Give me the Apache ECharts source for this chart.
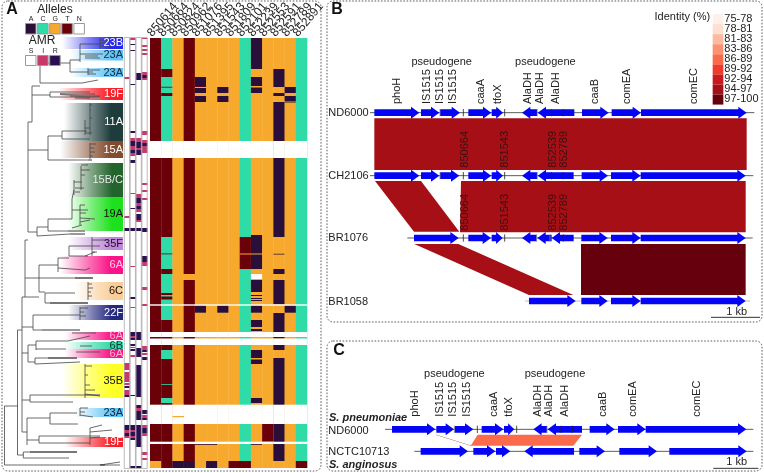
<!DOCTYPE html>
<html><head><meta charset="utf-8">
<style>html,body{margin:0;padding:0;background:#fff}#c{width:764px;height:473px}</style>
<script src="https://cdn.jsdelivr.net/npm/echarts@6/dist/echarts.min.js"></script>
</head><body><div id="c"></div>
<script>
const FONT='"Liberation Sans",Arial,sans-serif';
// ---------- Panel A data ----------
const positions=['850614','850664','850824','850962','851076','851395','851543','851809','852101','852239','852553','852591','852789','852891'];
const col0=[[38,461,'T'],[461,468,'G']];
const col1=[[38,158,'C'],[69,77,'T'],[86.8,87.6,'T'],[93,96,'T'],[158,237,'T'],[237,320,'C'],[253.5,254.3,'T'],[269,274,'T'],[293,295,'T'],[296.5,299.5,'T'],[320,350,'T'],[350,359,'C'],[359,398,'T'],[384,384.8,'C'],[398,403,'C'],[403,468,'T']];
const col2=[[38,461,'G'],[461,468,'A']];
const col3=[[38,274,'T'],[274,280,'G'],[280,461,'T'],[461,468,'A']];
const col4=[[38,468,'G'],[77,86,'A'],[86,87,'T'],[88,93,'A'],[96,102,'A'],[305.5,312.7,'A'],[444,444.8,'A']];
const col5=[[38,461,'G'],[444,444.8,'A'],[461,468,'A']];
const col6=[[38,468,'G'],[87,93,'A'],[96,102,'A'],[305.5,312.7,'A']];
const col7=[[38,461,'G'],[461,468,'T']];
const col8=[[38,461,'C'],[237,269,'T'],[253.5,254.5,'G'],[461,468,'T']];
const col9=[[38,468,'G'],[38,69,'A'],[77,86,'A'],[87.5,93,'A'],[235,253.5,'A'],[254.5,269,'A'],[274,279,'N'],[280,292,'A'],[295,296,'A'],[298,299,'A'],[300,301,'A'],[305.5,312.7,'A'],[320,327,'A'],[329,331,'A'],[350,358,'A'],[359.5,364,'A'],[398,403,'A'],[444,444.8,'A']];
const col10=[[38,468,'G'],[424,441.7,'T']];
const col11=[[38,468,'G'],[69,87,'A'],[93,96,'A'],[102,237,'A'],[253.8,254.5,'A'],[269,274,'A'],[280,304.3,'A'],[313,338.5,'A'],[345,350,'A'],[358,461,'A']];
const col12=[[38,468,'G'],[87,93,'A'],[96,101,'A'],[101.5,102.5,'A'],[305.5,312.7,'A']];
const col13=[[38,461,'C'],[461,468,'T']];
const alleleColumns=[col0,col1,col2,col3,col4,col5,col6,col7,col8,col9,col10,col11,col12,col13];
const blankRows=[[141,158],[304.3,305.7],[332,337],[338.5,345],[404.7,424],[441.7,444]];
const strayCalls=[[2,416,417.2,'G']];
const amrA=[[77,79,'I'],[216,218,'I'],[228,231,'R'],[363,370,'I'],[372,382,'I'],[383,385,'I'],[386,388,'R'],[390,395,'I'],[395,397,'R'],[425,430,'R'],[430,433,'I'],[433,436,'R'],[436,438,'I']];
const amrB=[[38,40,'I'],[44,45,'R'],[50,51,'R'],[84,85,'R'],[131,133,'R'],[138,141,'I'],[141,146,'R'],[146,150,'I'],[150,153,'R'],[153,156,'I'],[160,163,'R'],[193,194,'I'],[208,209,'R'],[228,231,'R'],[266,267,'I'],[297,299,'R'],[307,308,'I'],[332,336,'R'],[336,338,'I'],[338,340,'R'],[344,346,'R'],[347,348,'I'],[349,351,'R'],[355,357,'I'],[395,396,'R'],[425,430,'R'],[430,432,'I'],[432,436,'R'],[436,438,'I'],[438,440,'R'],[466,468,'R']];
const amrC=[[73,80,'R'],[138,142,'I'],[142,148,'R'],[148,150,'I'],[150,155,'R'],[194,198,'I'],[198,203,'R'],[203,206,'I'],[206,209,'R'],[209,212,'I'],[214,220,'R'],[220,222,'I'],[228,231,'R'],[332,340,'R'],[348,357,'R'],[365,397,'R'],[405,408,'R'],[408,411,'I'],[411,420,'R'],[425,447,'R'],[466,468,'R']];
const amrD=[[38,39,'I'],[45,47,'I'],[49,51,'I'],[53,55,'I'],[72,75,'I'],[75,78,'R'],[78,80,'I'],[131,135,'I'],[140,143,'I'],[143,146,'R'],[146,153,'I'],[183,185,'I'],[190,192,'I'],[198,200,'I'],[228,232,'R'],[256,262,'R'],[262,266,'I'],[287,290,'I'],[304,306,'I'],[346,350,'I'],[350,352,'R'],[353,355,'I'],[357,360,'R'],[410,414,'R'],[415,418,'I'],[418,420,'R'],[425,428,'I'],[428,433,'R'],[433,436,'I'],[452,455,'I'],[458,460,'I']];
const amrStrips=[amrA,amrB,amrC,amrD];
const alleleCodes=['A','C','G','T','N'];
const amrCodes=['S','I','R'];
const cladeNames=['23B','23A','23A','19F','11A','15A','15B/C','19A','35F','6A','6C','22F','6A','6B','6A','35B','23A','19F'];
const cladeFrom=[37,50,68,88,103,141,163,197,237,256,282,305,332,342,349,364,408,437];
const cladeTo=[49,60.5,77,100,141,158,197,231,250,274,300,320,340,349,358,398,417,447];
const cladeStart=[62,70,70,58,64,60,68,68,68,60,75,68,65,65,65,62,75,65];
const treeBranches=[
[4.5,406,4.5,465],[4.5,465,120,465],[4.5,406,17.5,406],[17.5,330,17.5,455],[17.5,455,23.3,455],[23.3,452,23.3,458],[23.3,452,77,452],[23.3,458,69,458],
[17.5,330,22,330],[22,297,22,432],[22,432,27,432],[27,418,27,445],[27,418,33,418],[33,418,50,418],[50,413,50,424],[50,413,77,413],[50,424,78,424],
[27,440,39,440],[39,436,39,443],[39,436,100,436],[39,443,90,443],[22,400,30,400],[30,395,30,402],[30,395,85,395],[30,402,73,402],
[22,353,28,353],[28,345,28,362],[28,345,36,345],[36,341,36,350],[36,341,68,341],[36,349,66,349],[28,362,35,362],[35,358,35,364],[35,358,77,358],[35,364,80,362],
[22,327,33,327],[33,315,33,330],[33,315,80,315],[33,330,42,330],[22,297,25,297],[25,240,25,297],[25,297,39,297],[39,265,39,292],[25,278,39,278],
[39,265,58,265],[58,258,58,272],[58,258,69,258],[69,246,69,256],[69,246,92,246],[69,256,88,256],[58,268,85,270],[39,278,93,278],[39,292,45,292],[45,293,45,303],[45,293,75,293],[45,303,88,303],
[25,240,28,240],[28,122,28,232],[28,232,37,232],[37,227,37,236],[37,227,48,227],[37,236,70,234],[48,219,48,231],[48,219,72,219],[48,231,68,231],[72,199,72,219],
[28,122,32,122],[32,86,32,122],[28,150,48,150],[48,136,48,160],[48,136,62,136],[62,131,62,139],[62,131,87,131],[62,139,90,139],[48,160,88,160],
[32,95,50,95],[50,92,50,97],[50,92,90,92],[50,97,100,97],[32,86,40,86],[40,63,40,83],[40,63,70,63],[40,83,82,83],[70,60,70,72],[70,60,80,60],[70,72,88,72],[80,44,80,62],
[80,44,100,44],[100,38,100,49],[100,40,110,40],[100,43,108,43],[100,46,112,46],[80,54,103,54],[85,58,100,58],[85,56,98,56],
[88,68,88,75],[88,70,100,70],[88,72,93,72],[88,74,96,74],[82,83,98,80],[60,94,95,94],[70,96,100,96],[75,98,90,98],
[90,103,90,135],[90,105,92,105],[90,110,91,110],[90,118,92,118],[85,120,85,135],[85,128,90,128],[85,133,92,133],
[90,143,90,159],[90,144,96,144],[90,148,94,148],[90,152,95,152],[90,156,93,156],
[81,166,81,190],[81,165,88,165],[81,170,90,170],[81,175,85,175],[74,180,74,195],[74,182,82,182],[75,188,84,188],[75,192,80,192],[72,199,74,190],
[80,205,80,225],[80,205,85,205],[80,210,88,210],[80,213,86,213],[80,218,95,219],[80,222,90,220],[72,210,80,210],[72,228,82,225],
[92,237,92,256],[92,240,108,240],[92,246,100,246],[92,252,97,252],[85,256,95,252],[85,270,90,268],[88,282,88,300],[88,284,92,284],[88,288,93,288],[88,292,91,292],[88,296,92,296],
[80,307,80,320],[80,308,88,308],[80,312,84,312],[80,316,86,316],[68,341,90,336],[72,333,96,333],[76,352,100,352],[80,346,92,346],
[85,364,85,398],[85,366,92,366],[85,375,88,375],[85,385,90,385],[85,390,95,390],[85,394,100,396],[80,408,80,416],[80,408,88,408],[80,412,85,412],[80,415,93,417],
[90,428,90,445],[90,428,102,425],[90,432,112,430],[90,438,100,437],[100,465,120,462]];
const collapsedBranches=[[30,452,77,452],[48,358,77,358],[42,330,80,330],[75,278,93,278],[50,303,88,303],[100,465,105,465],[68,231,85,231],[70,234,85,234],[88,160,92,160],[85,395,100,395],[60,94,100,98]];
// ---------- Panels B, C data (sequence position units; 147 = 1 kb) ----------
const trackNames=['ND6000','CH2106','BR1076','BR1058','ND6000','NCTC10713'];
const trackLevels=[338,527,714,903,1288,1354];
const trackSpans=[[135,1288],[135,1285],[247,1283],[600,1275],[180,1285],[268,1285]];
const genesND6000=[[148,283,1],[288,343,1],[345,405,1],[430,499,1],[500,534,1],[591,636,-1],[638,748,-1],[771,851,1],[860,948,1],[948,1265,1]];
const genesCH2106=[[148,283,1],[288,343,1],[345,403,1],[430,499,1],[500,534,1],[591,636,-1],[638,746,-1],[770,849,1],[858,947,1],[947,1262,1]];
const genesBR1076=[[267,401,1],[430,498,1],[500,533,1],[591,635,-1],[637,680,-1],[680,746,-1],[769,848,1],[858,947,1],[947,1262,1]];
const genesBR1058=[[612,752,1],[769,848,1],[858,947,1],[947,1262,1]];
const genesND6000c=[[201,331,1],[334,387,1],[389,445,1],[470,535,1],[537,568,1],[625,666,-1],[668,771,-1],[794,869,1],[879,962,1],[962,1264,1]];
const genesNCTC=[[287,429,1],[445,511,1],[513,556,1],[598,747,-1],[763,840,1],[883,996,1],[1033,1265,1]];
const trackGenes=[genesND6000,genesCH2106,genesBR1076,genesBR1058,genesND6000c,genesNCTC];
const snpTicks=[[415,539,680,715],[415,539,680,715],[415,539,715],[],[457,575,708,742],[]];
const pseudoTicks=[[637,345],[637,345],[635,675],[],[666,388],[]];
const geneLabelsB=['phoH','IS1515','IS1515','IS1515','caaA','tfoX','AlaDH','AlaDH','AlaDH','caaB','comEA','comEC'];
const geneLabelXB=[217,305,345,385,468,520,610,645,692,810,907,1107];
const geneLabelXC=[270,345,385,425,507,552,638,672,720,835,923,1117];
const pseudoXB=[350,661],pseudoXC=[388,690];
const snpNames=['850664','851543','852539','852789'];
const snpLabelX=[421,541,684,717];
const synteny=[
 {band:'94-97',pts:[[148,355],[1265,355],[1265,510],[148,510]]},
 {band:'94-97',pts:[[150,543],[288,543],[403,695],[267,695]]},
 {band:'94-97',pts:[[408,543],[1262,543],[1262,697],[405,697]]},
 {band:'94-97',pts:[[268,732],[400,732],[745,885],[612,885]]},
 {band:'97-100',pts:[[768,732],[1262,732],[1262,885],[768,885]]},
 {band:'86-89',pts:[[458,1304],[771,1304],[745,1337],[437,1337]]},
 {band:'94-97',pts:[[331,1304],[334,1304],[440,1337],[437,1337]]}];
const identityBands=['75-78','78-81','81-83','83-86','86-89','89-92','92-94','94-97','97-100'];
// ---------- Styles ----------
const alleleColor={A:'#2a0f3a',C:'#2fdca8',G:'#f7a92d',T:'#6a0008',N:'#ffffff'};
const amrColor={S:'#ffffff',I:'#c8396b',R:'#2a1050'};
const identityColor=['#fff1ea','#fee0d2','#fcbba1','#fc9272','#fb6a4a','#ef3b2c','#cb181d','#a50f15','#67000d'];
const bandColor={};identityBands.forEach((b,i)=>bandColor[b]=identityColor[i]);
const cladeRGB=['40,40,235','95,195,245','95,195,245','250,30,40','30,60,60','130,75,45','35,100,45','30,225,30','190,135,215','250,20,135','250,205,150','35,40,125','250,20,135','50,215,165','250,20,135','255,255,40','95,195,245','250,30,40'];
const cladeText=['#fff','#1a2a3a','#1a2a3a','#fff','#fff','#fff','#e8e8e8','#111','#1f1030','#ffd0e0','#111','#fff','#ffb0d0','#0a3a30','#ffb0d0','#111','#123','#fff'];
const txt=(x,y,text,o={})=>({type:'text',x,y,rotation:o.rot||0,style:{x:0,y:0,text,fill:o.fill||'#222',font:`${o.style||''} ${o.size||11}px ${FONT}`,align:o.align||'left',verticalAlign:o.v||'middle'},silent:true});
function rectTo(api,x1,y1,x2,y2){const a=api.coord([x1,y1]),b=api.coord([x2,y2]);return {x:a[0],y:a[1],width:b[0]-a[0],height:b[1]-a[1]};}
const series=[];
series.push({type:'custom',coordinateSystem:'cartesian2d',xAxisIndex:0,yAxisIndex:0,z:1,silent:true,
 data:cladeNames.map((n,i)=>i),
 renderItem(p,api){const i=p.dataIndex;const c=cladeRGB[i];
  return {type:'rect',shape:rectTo(api,cladeStart[i],cladeFrom[i],123,cladeTo[i]),
   style:{fill:new echarts.graphic.LinearGradient(0,0,1,0,[{offset:0,color:`rgba(${c},0)`},{offset:.45,color:`rgba(${c},.6)`},{offset:.8,color:`rgba(${c},1)`},{offset:1,color:`rgba(${c},1)`}])}};}});
const lineSeries=(arr,color,w,z)=>({type:'custom',coordinateSystem:'cartesian2d',xAxisIndex:0,yAxisIndex:0,z,silent:true,data:arr,
 renderItem(p,api){const a=api.coord([api.value(0),api.value(1)]),b=api.coord([api.value(2),api.value(3)]);
  return {type:'line',shape:{x1:a[0],y1:a[1],x2:b[0],y2:b[1]},style:{stroke:color,lineWidth:w}};}});
series.push(lineSeries(collapsedBranches,'#999',2,2));
series.push(lineSeries(treeBranches,'#444',.8,3));
series.push({type:'custom',coordinateSystem:'cartesian2d',xAxisIndex:0,yAxisIndex:0,z:4,silent:true,data:cladeNames.map((n,i)=>i),
 renderItem(p,api){const i=p.dataIndex;const c=api.coord([123,(cladeFrom[i]+cladeTo[i])/2]);
  return txt(c[0],c[1],cladeNames[i],{align:'right',fill:cladeText[i],size:11});}});
const amrCells=[];amrStrips.forEach((s,k)=>s.forEach(c=>amrCells.push([k,c[0],c[1],c[2]])));
series.push({type:'custom',coordinateSystem:'cartesian2d',xAxisIndex:1,yAxisIndex:1,z:3,silent:true,data:amrCells,
 renderItem(p,api){const k=amrCells[p.dataIndex];const c=api.coord([k[0],k[1]]),e=api.coord([k[0],k[2]]),w=api.size([1,0])[0];
  return {type:'rect',shape:{x:c[0]-w/2,y:c[1],width:w,height:e[1]-c[1]},style:{fill:amrColor[k[3]]}};}});
series.push({type:'custom',coordinateSystem:'cartesian2d',xAxisIndex:1,yAxisIndex:1,z:4,silent:true,data:[0,1,2,3],
 renderItem(p,api){const c=api.coord([p.dataIndex,38]),e=api.coord([p.dataIndex,468]),w=api.size([1,0])[0];
  return {type:'rect',shape:{x:c[0]-w/2+.3,y:c[1]-.5,width:w-.6,height:e[1]-c[1]+1},style:{fill:'none',stroke:'#aaa',lineWidth:.8}};}});
const cells=[];alleleColumns.forEach((s,k)=>s.forEach(c=>cells.push([k,c[0],c[1],alleleColor[c[2]]])));
alleleColumns.forEach((s,k)=>blankRows.forEach(b=>cells.push([k,b[0],b[1],'#fff'])));
strayCalls.forEach(c=>cells.push([c[0],c[1],c[2],alleleColor[c[3]]]));
series.push({type:'custom',coordinateSystem:'cartesian2d',xAxisIndex:2,yAxisIndex:2,z:3,silent:true,data:cells,
 renderItem(p,api){const k=cells[p.dataIndex];const c=api.coord([k[0],k[1]]),e=api.coord([k[0],k[2]]),w=api.size([1,0])[0];
  return {type:'rect',shape:{x:c[0]-w/2,y:c[1],width:w+.3,height:e[1]-c[1]},style:{fill:k[3]}};}});
// column headings, drawn rotated from each column's band
series.push({type:'custom',coordinateSystem:'cartesian2d',xAxisIndex:2,yAxisIndex:2,z:5,silent:true,data:positions.map((n,i)=>i),clip:false,
 renderItem(p,api){const i=p.dataIndex;const c=api.coord([i,38]);
  return txt(c[0]-6,c[1]-3,positions[i],{rot:50*Math.PI/180,size:12,fill:'#222'});}});
series.push({type:'custom',coordinateSystem:'cartesian2d',xAxisIndex:3,yAxisIndex:3,z:2,silent:true,data:synteny.map((s,i)=>i),
 renderItem(p,api){const s=synteny[p.dataIndex];return {type:'polygon',shape:{points:s.pts.map(q=>api.coord(q))},style:{fill:bandColor[s.band]}};}});
const trackLines=trackSpans.map((s,i)=>[s[0],trackLevels[i],s[1],trackLevels[i]]);
series.push({type:'custom',coordinateSystem:'cartesian2d',xAxisIndex:3,yAxisIndex:3,z:3,silent:true,data:trackLines,
 renderItem(p,api){const a=api.coord([api.value(0),api.value(1)]),b=api.coord([api.value(2),api.value(3)]);
  return {type:'line',shape:{x1:a[0],y1:a[1],x2:b[0],y2:b[1]},style:{stroke:p.dataIndex==3?'#aaa':'#333',lineWidth:.8}};}});
const ticks=[];snpTicks.forEach((t,i)=>t.forEach(x=>ticks.push([x,trackLevels[i],'#222'])));pseudoTicks.forEach((t,i)=>t.forEach(x=>ticks.push([x,trackLevels[i],'#888'])));
series.push({type:'custom',coordinateSystem:'cartesian2d',xAxisIndex:3,yAxisIndex:3,z:5,silent:true,data:ticks,
 renderItem(p,api){const k=ticks[p.dataIndex];const a=api.coord([k[0],k[1]-11]),b=api.coord([k[0],k[1]+11]);
  return {type:'line',shape:{x1:a[0],y1:a[1],x2:b[0],y2:b[1]},style:{stroke:k[2],lineWidth:.8}};}});
const geneRows=[];trackGenes.forEach((g,i)=>g.forEach(q=>geneRows.push([q[0],q[1],q[2],trackLevels[i]])));
series.push({type:'custom',coordinateSystem:'cartesian2d',xAxisIndex:3,yAxisIndex:3,z:4,silent:true,data:geneRows,
 renderItem(p,api){const [s,e,d,y]=geneRows[p.dataIndex];const hl=Math.min(25,(e-s)*.6),b=10,h=18;
  const pts=d>0?[[s,y-b],[e-hl,y-b],[e-hl,y-h],[e,y],[e-hl,y+h],[e-hl,y+b],[s,y+b]]:[[e,y-b],[s+hl,y-b],[s+hl,y-h],[s,y],[s+hl,y+h],[s+hl,y+b],[e,y+b]];
  return {type:'polygon',shape:{points:pts.map(q=>api.coord(q))},style:{fill:'#0505f5'}};}});
const texts=[];
const addGeneLabels=(xs,bottom,pseudo,py)=>{xs.forEach((x,i)=>texts.push({x:x,y:bottom,t:geneLabelsB[i],rot:1}));pseudo.forEach(x=>texts.push({x,y:py,t:'pseudogene',c:1}));};
addGeneLabels(geneLabelXB,312,pseudoXB,186);addGeneLabels(geneLabelXC,1250,pseudoXC,1123);
snpNames.forEach((n,i)=>{texts.push({x:snpLabelX[i],y:503,t:n,rot:1,fill:'#3d1010'});texts.push({x:snpLabelX[i],y:692,t:n,rot:1,fill:'#3d1010'});});
const trackTextY=[338,527,714,905,1293,1357];
trackNames.forEach((n,i)=>texts.push({x:10,y:trackTextY[i],t:n}));
texts.push({x:12,y:1255,t:'S. pneumoniae',st:'italic bold'});texts.push({x:12,y:1395,t:'S. anginosus',st:'italic bold'});
texts.push({x:1235,y:936,t:'1 kb',c:1});texts.push({x:1235,y:1387,t:'1 kb',c:1});
texts.push({x:1072,y:52,t:'Identity (%)',c:1});
identityBands.forEach((b,i)=>texts.push({x:1198,y:57+30.1*i,t:b}));
series.push({type:'custom',coordinateSystem:'cartesian2d',xAxisIndex:3,yAxisIndex:3,z:6,silent:true,data:texts.map((t,i)=>i),
 renderItem(p,api){const t=texts[p.dataIndex];const c=api.coord([t.x,t.y]);
  if(t.rot)return txt(c[0],c[1],t.t,{rot:Math.PI/2,fill:t.fill});
  return txt(c[0],c[1],t.t,{align:t.c?'center':'left',style:t.st||''});}});
series.push({type:'custom',coordinateSystem:'cartesian2d',xAxisIndex:3,yAxisIndex:3,z:6,silent:true,data:identityBands.map((b,i)=>i),
 renderItem(p,api){const i=p.dataIndex;return {type:'rect',shape:rectTo(api,1163,42+30.2*i,1195,42+30.2*(i+1)),style:{fill:identityColor[i]}};}});
series.push({type:'custom',coordinateSystem:'cartesian2d',xAxisIndex:3,yAxisIndex:3,z:6,silent:true,data:[[1158,952,1305,952],[1165,1405,1300,1405]],
 renderItem(p,api){const a=api.coord([api.value(0),api.value(1)]),b=api.coord([api.value(2),api.value(3)]);
  return {type:'line',shape:{x1:a[0],y1:a[1],x2:b[0],y2:b[1]},style:{stroke:'#333',lineWidth:1}};}});
const panel=(x,y,w,h)=>({type:'rect',shape:{x,y,width:w,height:h,r:6},style:{fill:'none',stroke:'#333',lineWidth:.8,lineDash:[1.6,1.6]},silent:true,z:10});
const letter=(x,y,t)=>({type:'text',x,y,style:{text:t,fill:'#111',font:`bold 16px ${FONT}`,align:'center',verticalAlign:'middle'},z:10});
const label=(x,y,t,size)=>({type:'text',x,y,style:{text:t,fill:'#222',font:`${size}px ${FONT}`,align:'center',verticalAlign:'middle'},z:10});
const swatch=(x,y,w,h,f)=>({type:'rect',shape:{x,y,width:w,height:h},style:{fill:f,stroke:'#999',lineWidth:1},z:10});
const graphic=[panel(2,1,319,470),panel(327,1,435,321),panel(327,341,435,130),letter(12,10,'A'),letter(337,10,'B'),letter(339,351,'C'),
 label(55,10,'Alleles',12),label(42,41,'AMR',12)];
alleleCodes.forEach((a,i)=>{graphic.push(label(31+12.1*i,19.5,a,7));graphic.push(swatch(25.5+12.1*i,23.5,10.5,10.5,alleleColor[a]));});
amrCodes.forEach((a,i)=>{graphic.push(label(31+12.1*i,51.5,a,7));graphic.push(swatch(25.5+12.1*i,55.5,10.5,10,amrColor[a]));});
const hide={show:false};
const chart=echarts.init(document.getElementById('c'),null,{renderer:'canvas'});
chart.setOption({animation:false,backgroundColor:'#fff',
 grid:[{left:0,top:0,width:124,height:473},{left:124,top:0,width:23.5,height:473},{left:150,top:38,width:157,height:430},{left:325,top:0,width:439,height:473}],
 xAxis:[{type:'value',gridIndex:0,min:0,max:124,...hide},
  {type:'category',gridIndex:1,data:['a','b','c','d'],...hide},
  {type:'category',gridIndex:2,position:'top',data:positions,...hide},
  {type:'value',gridIndex:3,min:0,max:1317,...hide}],
 yAxis:[{type:'value',gridIndex:0,min:0,max:473,inverse:true,...hide},
  {type:'value',gridIndex:1,min:0,max:473,inverse:true,...hide},
  {type:'value',gridIndex:2,min:38,max:468,inverse:true,...hide},
  {type:'value',gridIndex:3,min:0,max:1419,inverse:true,...hide}],
 graphic:{elements:graphic},series});
</script></body></html>
